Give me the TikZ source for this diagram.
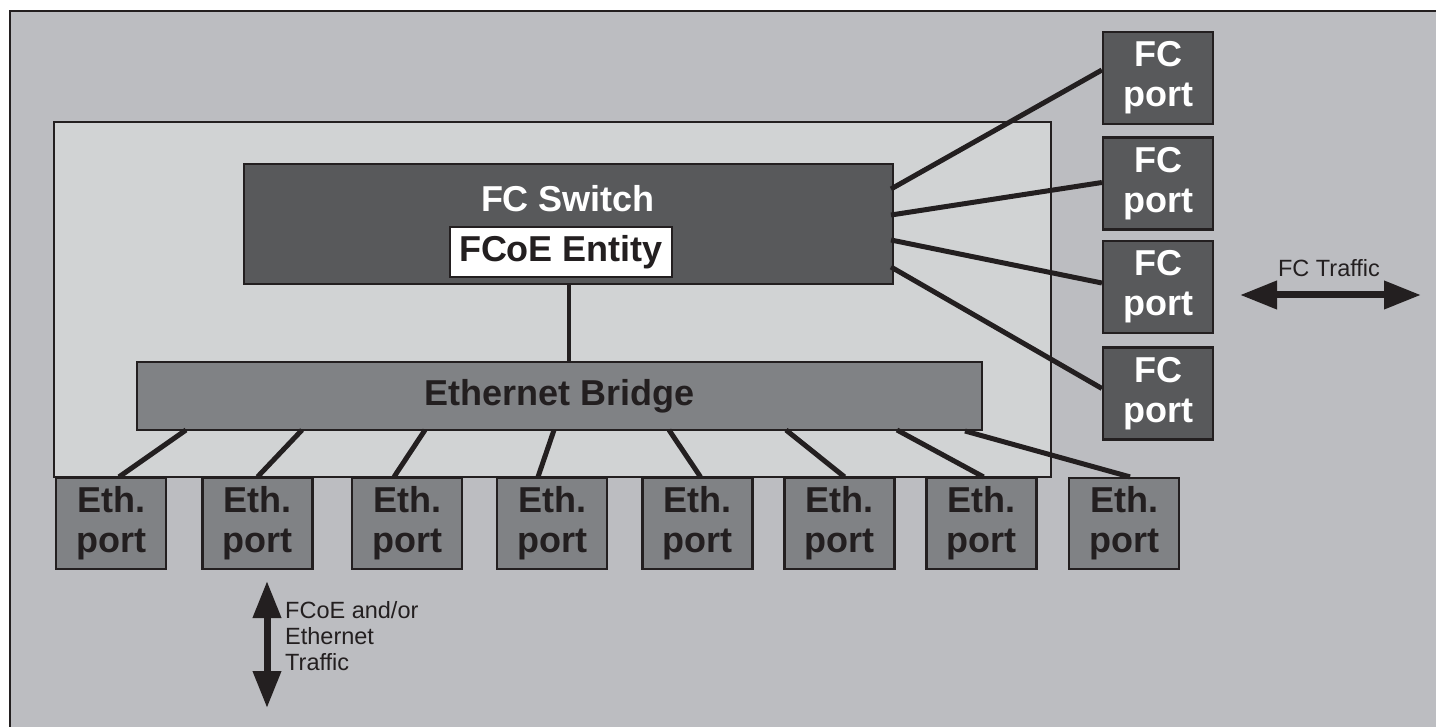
\documentclass[tikz,border=0pt]{standalone}
\usepackage{fontspec}
\setmainfont{Liberation Sans}
\usetikzlibrary{arrows.meta,calc}
\definecolor{bgout}{HTML}{BCBDC1}
\definecolor{bgin}{HTML}{D1D3D4}
\definecolor{darkbox}{HTML}{58595B}
\definecolor{midbox}{HTML}{808285}
\definecolor{ink}{HTML}{231F20}
\tikzset{
  boxbase/.style={draw=ink, line width=2.2pt, rectangle, inner sep=0pt, align=center},
  bigtxt/.style={font=\fontsize{36}{40}\selectfont\bfseries},
  smalltxt/.style={font=\fontsize{23.5}{26}\selectfont, text=ink},
  fcport/.style={boxbase, fill=darkbox, text=white, bigtxt, minimum width=110pt, minimum height=92pt},
  ethport/.style={boxbase, fill=midbox, text=ink, bigtxt, minimum width=110pt, minimum height=91pt},
  wire/.style={draw=ink, line width=5pt},
  traffic/.style={draw=ink, line width=7pt, {Triangle[length=37pt,width=27pt]}-{Triangle[length=37pt,width=27pt]}},
}
\begin{document}
\begin{tikzpicture}[x=1pt,y=-1pt]
\useasboundingbox (0,0) rectangle (1436,727);
\clip (0,0) rectangle (1436,727);
% outer frame
\draw[draw=ink, fill=bgout, line width=2.5pt] (10,11) rectangle (1460,750);
% inner box
\node[boxbase, fill=bgin, minimum width=997pt, minimum height=355pt] (inner) at (552.5,299.5) {};
% FC switch
\node[boxbase, fill=darkbox, minimum width=649pt, minimum height=120pt] (sw) at (568.5,224) {};
\node[bigtxt, text=white, inner sep=0pt] (swlabel) at (568,199) {FC Switch};
\node[boxbase, fill=white, text=ink, bigtxt, minimum width=222pt, minimum height=50pt] (ent) at (561,252) {FCoE Entity};
% Ethernet bridge
\node[boxbase, fill=midbox, text=ink, bigtxt, minimum width=845pt, minimum height=68pt] (bridge) at (559.5,396) {Ethernet Bridge};
\draw[wire, line width=4pt] (sw.south) -- (sw.south |- bridge.north);
% FC ports
\node[fcport] (fc1) at (1158,78) {FC\\port};
\node[fcport] (fc2) at (1158,183.5) {FC\\port};
\node[fcport] (fc3) at (1158,287) {FC\\port};
\node[fcport] (fc4) at (1158,393.5) {FC\\port};
\coordinate (s1) at (891,189);
\coordinate (s2) at (891,215);
\coordinate (s3) at (891,240);
\coordinate (s4) at (891,267);
\draw[wire] (s1) -- ([yshift=8pt]fc1.west);
\draw[wire] (s2) -- ([yshift=1pt]fc2.west);
\draw[wire] (s3) -- ([yshift=4pt]fc3.west);
\draw[wire] (s4) -- ([yshift=5pt]fc4.west);
% Eth ports
\node[ethport] (e1) at (111,523.5) {Eth.\\port};
\node[ethport] (e2) at (257.5,523.5) {Eth.\\port};
\node[ethport] (e3) at (407,523.5) {Eth.\\port};
\node[ethport] (e4) at (552,523.5) {Eth.\\port};
\node[ethport] (e5) at (697.5,523.5) {Eth.\\port};
\node[ethport] (e6) at (839.5,523.5) {Eth.\\port};
\node[ethport] (e7) at (981.5,523.5) {Eth.\\port};
\node[ethport] (e8) at (1124,523.5) {Eth.\\port};
\coordinate (b1) at (186,430);
\coordinate (b2) at (302,430);
\coordinate (b3) at (425,430);
\coordinate (b4) at (554,430);
\coordinate (b5) at (669,430);
\coordinate (b6) at (786,430);
\coordinate (b7) at (897,430);
\coordinate (b8) at (965,431);
\draw[wire] (b1) -- ([xshift=8pt]e1.north);
\draw[wire] (b2) -- ([xshift=0pt]e2.north);
\draw[wire] (b3) -- ([xshift=-13pt]e3.north);
\draw[wire] (b4) -- ([xshift=-14pt]e4.north);
\draw[wire] (b5) -- ([xshift=3pt]e5.north);
\draw[wire] (b6) -- ([xshift=5pt]e6.north);
\draw[wire] (b7) -- ([xshift=2pt]e7.north);
\draw[wire] (b8) -- ([xshift=6pt]e8.north);
% traffic arrows
\coordinate (fcL) at (1240,295);
\coordinate (fcR) at (1421,295);
\draw[traffic] (fcL) -- (fcR);
\node[smalltxt, inner sep=0pt] (fclabel) at (1329,268) {FC Traffic};
\coordinate (ethT) at (267,581);
\coordinate (ethB) at (267,708);
\draw[traffic] (ethT) -- (ethB);
\node[smalltxt, inner sep=0pt, align=left, anchor=north west] (ethlabel) at (285,601) {FCoE and/or\\Ethernet\\Traffic};
\end{tikzpicture}
\end{document}
